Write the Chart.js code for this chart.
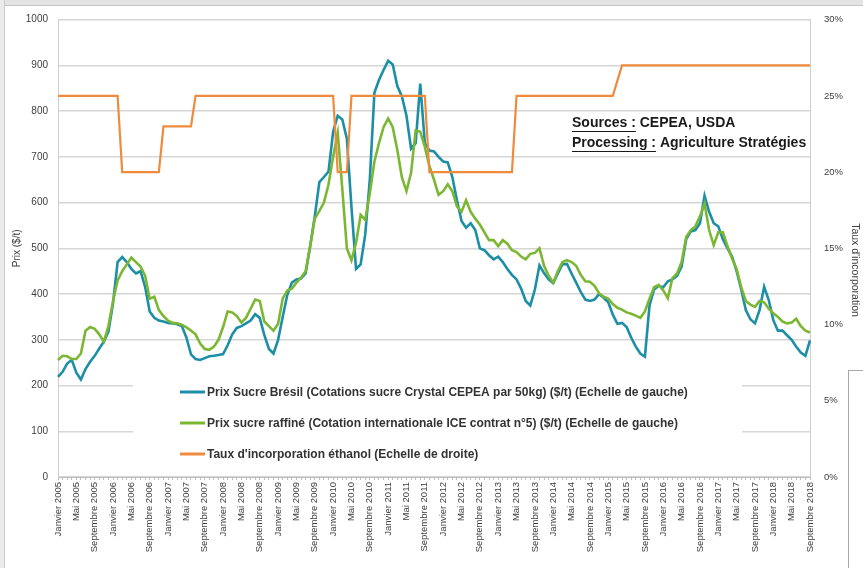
<!DOCTYPE html>
<html>
<head>
<meta charset="utf-8">
<title>Prix du sucre et taux d'incorporation d'éthanol au Brésil</title>
<script src="https://cdn.jsdelivr.net/npm/chart.js@4.4.1/dist/chart.umd.min.js"></script>
<style>
  html, body { margin: 0; padding: 0; background: #ffffff; }
  #wrap { position: relative; width: 863px; height: 568px; overflow: hidden; }
  #sugar { display: block; position: absolute; left: 0; top: 0; }
  /* window frame around the chart */
  .bar-top { position: absolute; left: 0; top: 0; width: 863px; height: 5px; background: #e4e4e4; border-bottom: 1px solid #c4c4c4; }
  .bar-left { position: absolute; left: 0; top: 0; width: 4px; height: 568px; background: #ebebeb; border-right: 1px solid #cdcdcd; }
  .side-box { position: absolute; left: 848px; top: 370px; width: 20px; height: 210px; background: #ffffff; border: 1px solid #a8a8a8; }
</style>
</head>
<body>
<div id="wrap">
  <canvas id="sugar" width="863" height="568"></canvas>
  <div class="bar-top"></div>
  <div class="bar-left"></div>
  <div class="side-box"></div>
</div>
<script>
// Monthly series, Janvier 2005 -> Septembre 2018
const monthNames = ['Janvier', 'Février', 'Mars', 'Avril', 'Mai', 'Juin', 'Juillet', 'Août',
  'Septembre', 'Octobre', 'Novembre', 'Décembre'];
const firstYear = 2005;
const lastYear = 2018;
const lastMonth = 8; // Septembre

// Prix sucre Brésil, CEPEA cristal ($/t)
const prixBresil = [
  219, 230, 248, 256, 228, 213, 236, 252, 265, 281,
  296, 318, 380, 470, 481, 470, 455, 445, 450, 416,
  362, 348, 342, 340, 337, 336, 334, 330, 305, 268,
  258, 256, 260, 264, 265, 267, 269, 288, 312, 326,
  330, 336, 342, 356, 348, 310, 280, 270, 300, 350,
  398, 425, 432, 434, 445, 505, 570, 645, 656, 668,
  755, 790, 782, 740, 590, 455, 465, 530, 650, 840,
  868, 890, 910, 902, 855, 832, 790, 718, 730, 860,
  730, 714, 712, 700, 690, 688, 656, 605, 560, 545,
  555, 540, 500, 496, 485, 476, 482, 470, 455, 442,
  432, 412, 385, 375, 410, 463, 446, 432, 424, 445,
  465, 466, 445, 425, 405, 388, 385, 388, 400, 392,
  382, 355, 335, 337, 328, 305, 285, 270, 263, 375,
  410, 418, 415, 428, 432, 440, 460, 520, 537, 540,
  555, 615, 580, 555, 548, 520, 500, 482, 450, 410,
  365, 345, 336, 365, 416, 387, 343, 320, 320, 310,
  300, 285, 272, 265, 299
];

// Prix sucre raffiné, ICE n°5 ($/t)
const prixRaffine = [
  256, 265, 264, 258, 258, 270, 320, 328, 324, 312,
  296, 330, 385, 430, 450, 465, 480, 470, 460, 440,
  390, 394, 365, 352, 342, 337, 336, 333, 327, 320,
  312, 292, 280, 278, 285, 300, 328, 362, 360, 352,
  338, 348, 368, 388, 385, 340, 330, 320, 335, 390,
  408, 412, 425, 436, 450, 505, 565, 582, 600, 640,
  700, 752, 630, 500, 474, 512, 573, 562, 620, 690,
  730, 765, 784, 765, 715, 655, 625, 665, 758, 755,
  722, 680, 650, 617, 625, 640, 625, 592, 580, 605,
  580, 565, 552, 535, 518, 518, 505, 518, 510, 496,
  492, 482, 476, 488, 490, 500, 462, 440, 425, 450,
  470, 474, 470, 462, 442, 428, 427, 418, 402, 394,
  390, 378, 370, 366, 360, 357, 353, 348, 362, 390,
  415, 420, 408, 391, 435, 445, 470, 525, 540, 548,
  570, 598, 540, 507, 535, 535, 505, 478, 455, 415,
  385, 377, 372, 385, 382, 368, 358, 350, 340, 336,
  338, 346, 330, 320, 316
];

// Taux d'incorporation éthanol (%)
const tauxEthanol = [
  25, 25, 25, 25, 25, 25, 25, 25, 25, 25,
  25, 25, 25, 25, 20, 20, 20, 20, 20, 20,
  20, 20, 20, 23, 23, 23, 23, 23, 23, 23,
  25, 25, 25, 25, 25, 25, 25, 25, 25, 25,
  25, 25, 25, 25, 25, 25, 25, 25, 25, 25,
  25, 25, 25, 25, 25, 25, 25, 25, 25, 25,
  25, 20, 20, 20, 25, 25, 25, 25, 25, 25,
  25, 25, 25, 25, 25, 25, 25, 25, 25, 25,
  25, 20, 20, 20, 20, 20, 20, 20, 20, 20,
  20, 20, 20, 20, 20, 20, 20, 20, 20, 20,
  25, 25, 25, 25, 25, 25, 25, 25, 25, 25,
  25, 25, 25, 25, 25, 25, 25, 25, 25, 25,
  25, 25, 26, 27, 27, 27, 27, 27, 27, 27,
  27, 27, 27, 27, 27, 27, 27, 27, 27, 27,
  27, 27, 27, 27, 27, 27, 27, 27, 27, 27,
  27, 27, 27, 27, 27, 27, 27, 27, 27, 27,
  27, 27, 27, 27, 27
];

const prixTicks = [0, 100, 200, 300, 400, 500, 600, 700, 800, 900, 1000];
const tauxTicks = [0, 5, 10, 15, 20, 25, 30];

const labels = [];
for (let y = firstYear; y <= lastYear; y++) {
  for (let m = 0; m < 12; m++) {
    if (y === lastYear && m > lastMonth) break;
    labels.push(monthNames[m] + ' ' + y);
  }
}

const seriesNames = [
  'Prix Sucre Brésil (Cotations sucre Crystal CEPEA par 50kg) ($/t) (Echelle de gauche)',
  'Prix sucre raffiné (Cotation internationale ICE contrat n°5) ($/t) (Echelle de gauche)',
  'Taux d\'incorporation éthanol (Echelle de droite)'
];

const colBresil = '#1c8fa6';
const colRaffine = '#7cb734';
const colEthanol = '#ef8b3c';
const textColor = '#404040';
const gridColor = '#d6d6d6';
const fontFamily = '"Liberation Sans", Arial, sans-serif';

// legend block drawn inside the plot, the sources note and the right axis title
const notesPlugin = {
  id: 'notes',
  afterDatasetsDraw(chart) {
    const ctx = chart.ctx;
    ctx.save();

    ctx.fillStyle = '#ffffff';
    ctx.fillRect(133, 366, 609, 104);

    const rows = [392, 423, 454];
    ctx.font = 'bold 12px ' + fontFamily;
    ctx.textBaseline = 'middle';
    chart.data.datasets.forEach((ds, i) => {
      ctx.strokeStyle = ds.borderColor;
      ctx.lineWidth = 3;
      ctx.beginPath();
      ctx.moveTo(180, rows[i]);
      ctx.lineTo(205, rows[i]);
      ctx.stroke();
      ctx.fillStyle = '#333333';
      ctx.fillText(ds.label, 207, rows[i] + 0.5);
    });

    // Sources / Processing
    const notes = [
      ['Sources :', ' CEPEA, USDA', 123],
      ['Processing :', ' Agriculture Stratégies', 143]
    ];
    ctx.font = 'bold 14px ' + fontFamily;
    ctx.fillStyle = '#1a1a1a';
    ctx.strokeStyle = '#1a1a1a';
    ctx.lineWidth = 1;
    notes.forEach(([head, rest, y]) => {
      const x = 572;
      ctx.fillText(head, x, y);
      const w = ctx.measureText(head).width;
      ctx.beginPath();
      ctx.moveTo(x, y + 8.5);
      ctx.lineTo(x + w, y + 8.5);
      ctx.stroke();
      ctx.fillText(rest, x + w, y);
    });

    // right axis title, reads top to bottom
    ctx.translate(855, 270);
    ctx.rotate(Math.PI / 2);
    ctx.font = '10.5px ' + fontFamily;
    ctx.fillStyle = textColor;
    ctx.textAlign = 'center';
    ctx.fillText('Taux d\'incorporation', 0, 0);

    ctx.restore();
  }
};

new Chart(document.getElementById('sugar'), {
  type: 'line',
  data: {
    labels: labels,
    datasets: [
      {
        label: seriesNames[0],
        data: prixBresil,
        yAxisID: 'y',
        borderColor: colBresil,
        borderWidth: 2.6,
        pointRadius: 0,
        tension: 0,
        order: 3
      },
      {
        label: seriesNames[1],
        data: prixRaffine,
        yAxisID: 'y',
        borderColor: colRaffine,
        borderWidth: 2.6,
        pointRadius: 0,
        tension: 0,
        order: 2
      },
      {
        label: seriesNames[2],
        data: tauxEthanol,
        yAxisID: 'y1',
        borderColor: colEthanol,
        borderWidth: 2.2,
        pointRadius: 0,
        tension: 0,
        order: 1
      }
    ]
  },
  options: {
    responsive: false,
    animation: false,
    devicePixelRatio: 1,
    layout: { padding: { top: 19, left: 0, right: 0, bottom: 0 } },
    plugins: {
      legend: { display: false },
      tooltip: { enabled: false }
    },
    scales: {
      x: {
        type: 'category',
        offset: false,
        afterFit(scale) { scale.height = 91; },
        grid: {
          drawOnChartArea: false,
          drawTicks: true,
          tickLength: 3,
          color: '#bdbdbd'
        },
        border: { color: '#bdbdbd', width: 1 },
        ticks: {
          autoSkip: false,
          minRotation: 90,
          maxRotation: 90,
          padding: 2,
          color: textColor,
          font: { family: fontFamily, size: 9.5 },
          callback(value, index) {
            return index % 4 === 0 ? this.getLabelForValue(value) : '';
          }
        }
      },
      y: {
        position: 'left',
        min: prixTicks[0],
        max: prixTicks[prixTicks.length - 1],
        afterFit(scale) { scale.width = 58; },
        afterBuildTicks(scale) { scale.ticks = prixTicks.map(v => ({ value: v })); },
        grid: {
          color: gridColor,
          lineWidth: 1.5,
          drawTicks: false
        },
        border: { display: true, color: '#cfcfcf', width: 1 },
        ticks: {
          padding: 10,
          color: textColor,
          font: { family: fontFamily, size: 10 },
          callback: v => String(v)
        },
        title: {
          display: true,
          text: 'Prix ($/t)',
          color: textColor,
          font: { family: fontFamily, size: 10 },
          padding: { top: 11, bottom: 0 }
        }
      },
      y1: {
        position: 'right',
        min: tauxTicks[0],
        max: tauxTicks[tauxTicks.length - 1],
        afterFit(scale) { scale.width = 53; },
        afterBuildTicks(scale) { scale.ticks = tauxTicks.map(v => ({ value: v })); },
        grid: { drawOnChartArea: false, drawTicks: false },
        border: { display: true, color: '#cfcfcf', width: 1 },
        ticks: {
          padding: 14,
          color: textColor,
          font: { family: fontFamily, size: 9.5 },
          callback: v => v + '%'
        }
      }
    }
  },
  plugins: [notesPlugin]
});
</script>
</body>
</html>
